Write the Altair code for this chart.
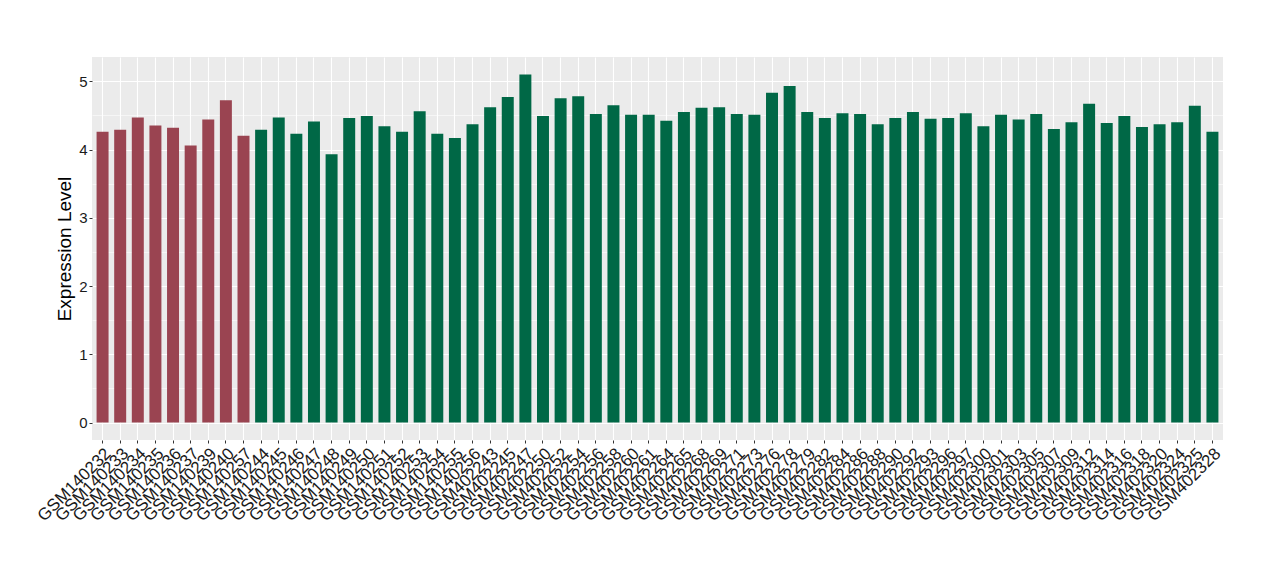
import altair as alt
import pandas as pd

samples = [
    "GSM140232", "GSM140233", "GSM140234", "GSM140235", "GSM140236", "GSM140237",
    "GSM140239", "GSM140240", "GSM140257",
    "GSM140244", "GSM140245", "GSM140246", "GSM140247", "GSM140248", "GSM140249",
    "GSM140250", "GSM140251", "GSM140252", "GSM140253", "GSM140254", "GSM140255",
    "GSM140256",
    "GSM402243", "GSM402245", "GSM402247", "GSM402250", "GSM402252", "GSM402254",
    "GSM402256", "GSM402258", "GSM402260", "GSM402261", "GSM402264", "GSM402265",
    "GSM402268", "GSM402269", "GSM402271", "GSM402273", "GSM402276", "GSM402278",
    "GSM402279", "GSM402282", "GSM402284", "GSM402286", "GSM402288", "GSM402290",
    "GSM402292", "GSM402293", "GSM402296", "GSM402297", "GSM402300", "GSM402301",
    "GSM402303", "GSM402305", "GSM402307", "GSM402309", "GSM402312", "GSM402314",
    "GSM402316", "GSM402318", "GSM402320", "GSM402324", "GSM402325", "GSM402328",
]

values = [
    4.26, 4.29, 4.47, 4.35, 4.32, 4.06, 4.44, 4.72, 4.20,
    4.29, 4.47, 4.23, 4.41, 3.93, 4.46, 4.49, 4.34, 4.26, 4.56, 4.23, 4.17, 4.37,
    4.62, 4.77, 5.10, 4.49, 4.75, 4.78, 4.52, 4.65, 4.51, 4.51, 4.42, 4.55,
    4.61, 4.62, 4.52, 4.51, 4.83, 4.93, 4.55, 4.46, 4.53, 4.52, 4.37, 4.46,
    4.55, 4.45, 4.46, 4.53, 4.34, 4.51, 4.44, 4.52, 4.30, 4.40, 4.67, 4.39,
    4.49, 4.33, 4.37, 4.40, 4.64, 4.26,
]

groups = ["A"] * 9 + ["B"] * 55
group_names = ["A", "B"]
group_colors = ["#9A4451", "#006846"]

y_ticks = [0, 0.5, 1, 1.5, 2, 2.5, 3, 3.5, 4, 4.5, 5]
y_domain = [-0.255, 5.355]

df = pd.DataFrame({"sample": samples, "value": values, "group": groups})

font = "Liberation Sans"

chart = (
    alt.Chart(df)
    .mark_bar()
    .encode(
        x=alt.X(
            "sample:N",
            sort=None,
            title=None,
            scale=alt.Scale(paddingInner=0.32, paddingOuter=0.26),
            axis=alt.Axis(
                labelAngle=-45,
                labelAlign="right",
                labelBaseline="top",
                labelFontSize=17,
                labelColor="#1a1a1a",
                labelFont=font,
                labelPadding=2,
                labelOverlap=False,
                tickColor="#333333",
                tickSize=3,
                domain=False,
                grid=True,
                gridColor="white",
                gridWidth=1.1,
                bandPosition=0.5,
            ),
        ),
        y=alt.Y(
            "value:Q",
            title="Expression Level",
            scale=alt.Scale(domain=y_domain, nice=False, zero=False),
            axis=alt.Axis(
                values=y_ticks,
                labelExpr="datum.value % 1 === 0 ? format(datum.value, 'd') : ''",
                labelFontSize=15,
                labelColor="#1a1a1a",
                labelFont=font,
                labelPadding=2,
                tickColor="#333333",
                tickSize=3,
                tickOpacity={"condition": {"test": "datum.value % 1 !== 0", "value": 0}, "value": 1},
                domain=False,
                grid=True,
                gridColor="white",
                gridWidth={"condition": {"test": "datum.value % 1 !== 0", "value": 0.55}, "value": 1.1},
                titleFontSize=19,
                titleFont=font,
                titleFontWeight="normal",
                titleColor="black",
                titlePadding=4,
            ),
        ),
        color=alt.Color(
            "group:N",
            scale=alt.Scale(domain=group_names, range=group_colors),
            legend=None,
        ),
    )
    .properties(
        width=1131,
        height=383,
        autosize="none",
        padding={"left": 84, "top": 49, "right": 40, "bottom": 100},
    )
    .configure(background="white")
    .configure_view(fill="#EBEBEB", stroke=None)
)

chart.save("out.html", embed_options={"renderer": "svg", "actions": False})
